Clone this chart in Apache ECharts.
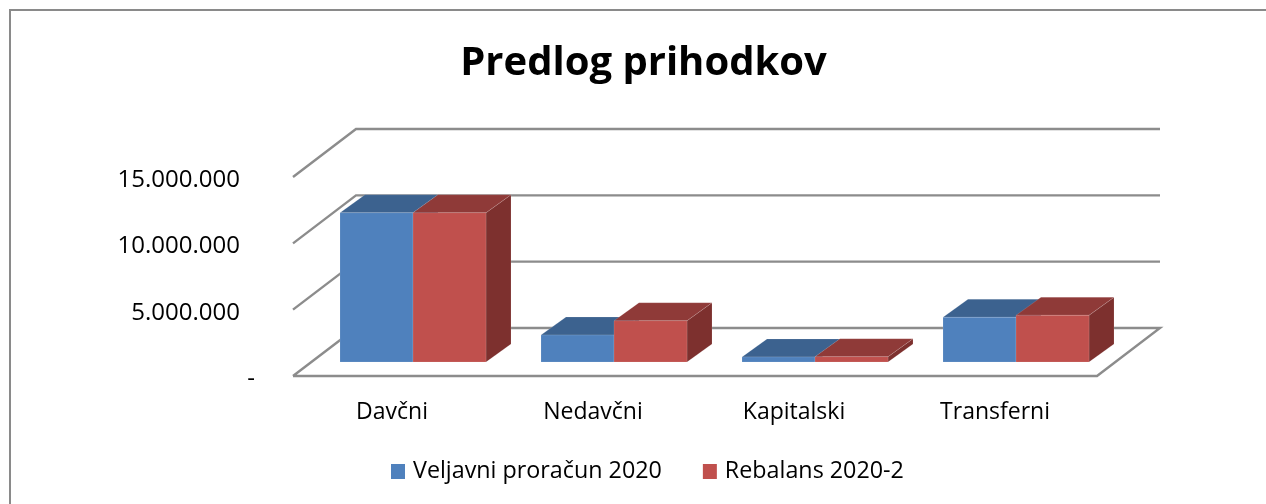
<!DOCTYPE html>
<html>
<head>
<meta charset="utf-8">
<style>html,body{margin:0;padding:0;background:#fff}#c{width:1266px;height:504px}</style>
<script src="https://cdn.jsdelivr.net/npm/echarts@6/dist/echarts.min.js"></script>
</head>
<body>
<div id="c"></div>
<script>
const chartTitle = 'Predlog prihodkov';
const categories = ['Davčni', 'Nedavčni', 'Kapitalski', 'Transferni'];
const seriesNames = ['Veljavni proračun 2020', 'Rebalans 2020-2'];
const veljavni = [11250000, 2030000, 380000, 3370000];
const rebalans = [11250000, 3110000, 400000, 3520000];
const yTicks = [0, 5000000, 10000000, 15000000];

const FONT = '"Open Sans", sans-serif';
const WALL = [63, -48];      // depth of the chart box
const BASE = [19.5, -14];    // bars stand this far into the floor
const DEPTH = [25, -18];     // depth of a bar
const BAR_W = 73;
const LINE = {stroke: '#8c8c8c', lineWidth: 2.4, fill: null};

function fmt(v) {
  return String(v).replace(/\B(?=(\d{3})+$)/g, '.');
}

function wallItem(params, api) {
  const cs = params.coordSys;
  const v = api.value(1);
  const y = api.coord([0, v])[1];
  const x0 = cs.x, x1 = cs.x + cs.width;
  const pts = v === 0
    ? [[x0, y], [x1, y], [x1 + WALL[0], y + WALL[1]], [x0 + WALL[0], y + WALL[1]], [x0, y]]
    : [[x0, y], [x0 + WALL[0], y + WALL[1]], [x1 + WALL[0], y + WALL[1]]];
  return {type: 'polyline', shape: {points: pts}, style: LINE};
}

function barRenderer(sign, front, top, side) {
  return function (params, api) {
    const c = api.coord([api.value(0), api.value(1)]);
    const b = api.coord([api.value(0), 0]);
    const cx = c[0] + BASE[0];
    const xa = sign < 0 ? cx - BAR_W : cx;
    const xb = xa + BAR_W;
    const yT = c[1] + BASE[1];
    const yB = b[1] + BASE[1];
    const edge = 'rgba(255,255,255,0.12)';
    const dx = DEPTH[0], dy = DEPTH[1];
    return {
      type: 'group',
      children: [
        {type: 'polygon', shape: {points: [[xb, yT], [xb + dx, yT + dy], [xb + dx, yB + dy], [xb, yB]]},
          style: {fill: side, stroke: edge, lineWidth: 1}},
        {type: 'polygon', shape: {points: [[xa, yT], [xa + dx, yT + dy], [xb + dx, yT + dy], [xb, yT]]},
          style: {fill: top, stroke: edge, lineWidth: 1}},
        {type: 'rect', shape: {x: xa, y: yT, width: BAR_W, height: yB - yT},
          style: {fill: front, stroke: edge, lineWidth: 1}}
      ]
    };
  };
}

const chart = echarts.init(document.getElementById('c'), null, {renderer: 'canvas'});
chart.setOption({
  animation: false,
  backgroundColor: '#fff',
  title: {
    text: chartTitle, left: 638.5, top: 39, textAlign: 'center',
    textStyle: {fontFamily: FONT, fontSize: 40, fontWeight: 'bold', color: '#000'}
  },
  legend: {
    data: seriesNames, left: 386, top: 455, itemWidth: 14, itemHeight: 15, itemGap: 41,
    icon: 'rect',
    textStyle: {fontFamily: FONT, fontSize: 23.3, color: '#000', padding: [0, 0, 0, 3]}
  },
  grid: {left: 293, top: 177, width: 804, height: 199, containLabel: false},
  xAxis: {
    type: 'category', data: categories,
    axisLine: {show: false}, axisTick: {show: false}, splitLine: {show: false},
    axisLabel: {fontFamily: FONT, fontSize: 23, color: '#000', margin: 25, padding: [0, 3, 0, 0]}
  },
  yAxis: {
    type: 'value', min: 0, max: 15000000, interval: 5000000,
    axisLine: {show: false}, axisTick: {show: false}, splitLine: {show: false},
    axisLabel: {
      margin: 38, color: '#000', fontFamily: FONT, fontSize: 24,
      formatter: v => v === 0 ? '{d|-}' : '{n|' + fmt(v) + '}',
      rich: {
        n: {fontFamily: FONT, fontSize: 24, color: '#000', padding: [6, 15, 0, 0]},
        d: {fontFamily: FONT, fontSize: 24, color: '#000', padding: [6, 0, 0, 0]}
      }
    }
  },
  graphic: [{
    type: 'polyline', silent: true,
    shape: {points: [[10, 504], [10, 10], [1266, 10]]},
    style: {stroke: '#8a8a8a', lineWidth: 2, fill: null}
  }],
  series: [
    {type: 'custom', name: 'Mreža', silent: true, z: 1, encode: {x: 0, y: 1},
      data: yTicks.map(v => [0, v]), renderItem: wallItem},
    {type: 'custom', name: seriesNames[0], z: 2, encode: {x: 0, y: 1},
      itemStyle: {color: '#4f81bd'},
      data: veljavni.map((v, i) => [i, v]),
      renderItem: barRenderer(-1, '#4f81bd', '#3c628f', '#34557c')},
    {type: 'custom', name: seriesNames[1], z: 3, encode: {x: 0, y: 1},
      itemStyle: {color: '#c0504d'},
      data: rebalans.map((v, i) => [i, v]),
      renderItem: barRenderer(1, '#c0504d', '#8f3a38', '#7d302e')}
  ]
});
</script>
</body>
</html>
